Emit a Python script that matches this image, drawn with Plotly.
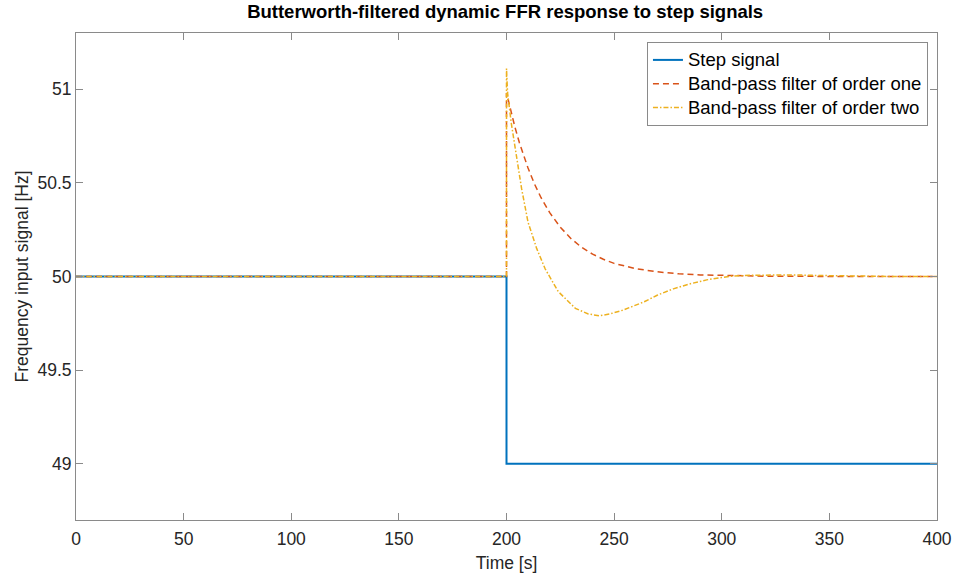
import plotly.graph_objects as go

# ---- data ----
step_t = [0, 200, 200, 400]
step_v = [50, 50, 49, 49]

ord1_t = [0, 200, 200, 201, 202, 204, 206, 208, 210, 213, 216, 220, 225, 230, 235,
          240, 245, 250, 260, 270, 280, 290, 300, 320, 350, 400]
ord1_v = [50, 50, 50.98, 50.93, 50.882, 50.794, 50.714, 50.643, 50.579, 50.494, 50.422,
          50.342, 50.263, 50.202, 50.155, 50.119, 50.092, 50.070, 50.042, 50.025,
          50.0145, 50.0086, 50.005, 50.0018, 50.0004, 50.0]

ord2_t = [0, 200, 200, 200.5, 202.2, 204.5, 207, 210, 214, 218, 224, 232, 238, 243,
          248, 254, 264, 270, 277.5, 285, 293, 300, 305, 315, 325, 335, 347, 360, 380, 400]
ord2_v = [50, 50, 51.11, 50.98, 50.82, 50.64, 50.47, 50.29, 50.15, 50.04, 49.92, 49.83,
          49.80, 49.79, 49.80, 49.82, 49.865, 49.90, 49.934, 49.96, 49.982, 49.995,
          50.002, 50.007, 50.009, 50.008, 50.005, 50.002, 50.0, 50.0]

series_names = ["Step signal", "Band-pass filter of order one", "Band-pass filter of order two"]

x_ticks = [0, 50, 100, 150, 200, 250, 300, 350, 400]
y_ticks = [49, 49.5, 50, 50.5, 51]
y_tick_text = ["49", "49.5", "50", "50.5", "51"]

FONT = "Liberation Sans, Arial, sans-serif"
TXT = "#262626"
AX = "#8a8a8a"


def legend_label(s):
    return "<span style='font-size:18.5px'>" + s + "</span>"


fig = go.Figure()
fig.add_trace(go.Scatter(x=step_t, y=step_v, mode="lines", name=legend_label(series_names[0]),
                         line=dict(color="#0072BD", width=2)))
fig.add_trace(go.Scatter(x=ord1_t, y=ord1_v, mode="lines", name=legend_label(series_names[1]),
                         line=dict(color="#D95319", width=1.5, dash="6px,4px")))
fig.add_trace(go.Scatter(x=ord2_t, y=ord2_v, mode="lines", name=legend_label(series_names[2]),
                         line=dict(color="#EDB120", width=1.5, dash="5px,2px,1.5px,2px")))

axis_common = dict(showline=True, linecolor=AX, linewidth=1, mirror="ticks",
                   ticks="inside", ticklen=7, tickcolor=AX, tickwidth=1,
                   showgrid=False, zeroline=False, automargin=False,
                   tickfont=dict(family=FONT, size=17.5, color=TXT))

fig.update_layout(
    width=954, height=574,
    margin=dict(l=76, r=17, t=33, b=54),
    paper_bgcolor="white", plot_bgcolor="white",
    title=dict(text="<b>Butterworth-filtered dynamic FFR response to step signals</b>",
               x=0.5295, xanchor="center", y=0.98, yanchor="middle",
               font=dict(family=FONT, size=18.5, color="black")),
    xaxis=dict(range=[0, 400], tickvals=x_ticks, ticklabelstandoff=3,
               title=dict(text="Time [s]", standoff=8,
                          font=dict(family=FONT, size=17.5, color=TXT)),
               **axis_common),
    yaxis=dict(range=[48.7, 51.3], tickvals=y_ticks, ticktext=y_tick_text,
               title=dict(text="Frequency input signal [Hz]", standoff=4,
                          font=dict(family=FONT, size=17.5, color=TXT)),
               **axis_common),
    legend=dict(x=0.9895, xanchor="right", y=0.9815, yanchor="top",
                bgcolor="white", bordercolor=AX, borderwidth=1,
                font=dict(family=FONT, size=16, color="black"),
                tracegroupgap=0, itemwidth=30),
    showlegend=True,
)

fig.write_html("out.html")
